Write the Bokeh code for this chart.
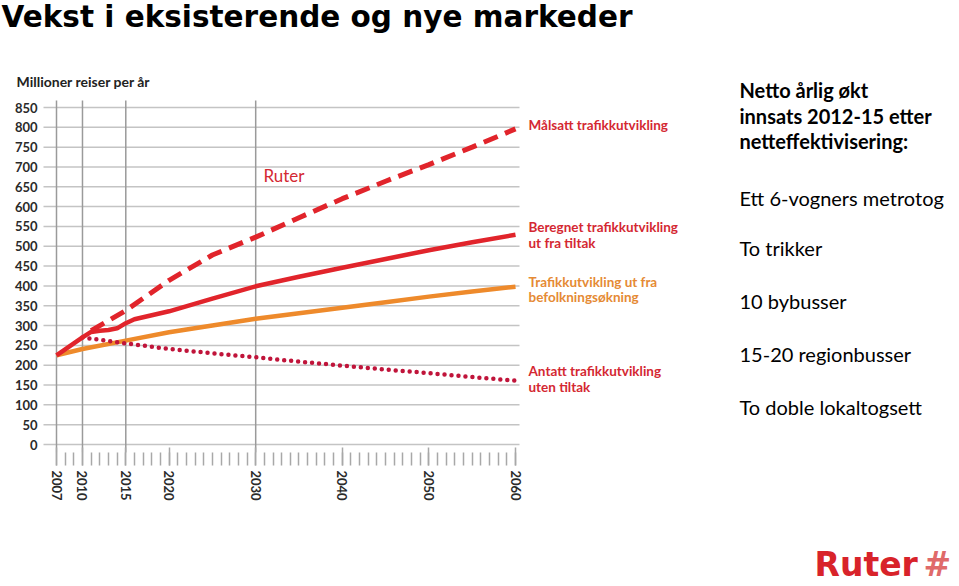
from bokeh.plotting import figure
from bokeh.models import Range1d, FixedTicker, Label, LinearAxis, Grid
from bokeh.embed import file_html
from bokeh.resources import INLINE

# ---------------- data ----------------
years_target = [2011, 2015, 2020, 2025, 2030, 2035, 2040, 2045, 2050, 2055, 2060]
target = [287, 338, 414, 478, 523, 572, 620, 664, 706, 750, 796]

years_calc = [2007, 2010, 2011, 2012, 2013, 2014, 2015, 2016, 2020, 2025, 2030,
              2035, 2040, 2045, 2050, 2055, 2060]
calc = [225, 270, 284, 287, 289, 293, 306, 316, 336, 368, 399,
        423, 446, 468, 490, 510, 529]

years_pop = [2007, 2010, 2015, 2020, 2025, 2030, 2035, 2040, 2045, 2050, 2055, 2060]
pop = [225, 241, 262, 283, 300, 317, 331, 345, 359, 373, 386, 398]

years_base = [2010, 2015, 2020, 2025, 2030, 2035, 2040, 2045, 2050, 2055, 2060]
base = [270, 255, 241, 230, 220, 209, 199, 189, 180, 170, 161]

y_ticks = list(range(0, 851, 50))
x_label_years = [2007, 2010, 2015, 2020, 2030, 2040, 2050, 2060]
x_minor_years = list(range(2007, 2061))
v_grid_years = [2007, 2010, 2015, 2030]

series_labels = [
    ("Målsatt trafikkutvikling", 130),
    ("Beregnet trafikkutvikling", 232),
    ("ut fra tiltak", 248),
    ("Trafikkutvikling ut fra", 287),
    ("befolkningsøkning", 302),
    ("Antatt trafikkutvikling", 376),
    ("uten tiltak", 392),
]
side_bold = ["Netto årlig økt", "innsats 2012-15 etter", "netteffektivisering:"]
side_items = ["Ett 6-vogners metrotog", "To trikker", "10 bybusser",
              "15-20 regionbusser", "To doble lokaltogsett"]

# ---------------- geometry (canvas px -> data) ----------------
W, H = 959, 586
PXY = (515 - 56) / 53.0
PXU = (444 - 107) / 850.0


def xd(px):
    return 2007 + (px - 56) / PXY


def yd(py):
    return (444 - py) / PXU


PLOT_L, PLOT_R, PLOT_T, PLOT_B = 43, 519, 100, 452

RED = "#e1242b"
LRED = "#d42832"
ORANGE = "#ee8a2b"
LORANGE = "#e58a34"
CRIMSON = "#c0143a"
FONT = "Lato"

p = figure(width=W, height=H,
           x_range=Range1d(xd(0), xd(W)), y_range=Range1d(yd(H), yd(0)),
           output_backend="svg", toolbar_location=None,
           x_axis_location=None, y_axis_location=None,
           min_border=0)
p.center = [c for c in p.center if not isinstance(c, Grid)]
p.outline_line_color = None
p.background_fill_color = "white"
p.border_fill_color = "white"

# grid lines (from the tick lists)
p.segment(x0=xd(PLOT_L), x1=xd(PLOT_R), y0=y_ticks, y1=y_ticks,
          line_color="#c4c4c4", line_width=1.5)
p.segment(x0=v_grid_years, x1=v_grid_years, y0=yd(PLOT_B), y1=yd(PLOT_T),
          line_color="#9a9a9a", line_width=1.5)

# y axis
yaxis = LinearAxis(fixed_location=xd(PLOT_L), ticker=FixedTicker(ticks=y_ticks))
yaxis.axis_line_color = None
yaxis.major_tick_line_color = None
yaxis.minor_tick_line_color = None
yaxis.major_tick_in = 0
yaxis.major_tick_out = 0
yaxis.minor_tick_in = 0
yaxis.minor_tick_out = 0
yaxis.major_label_standoff = 6
yaxis.major_label_text_font = FONT
yaxis.major_label_text_font_style = "bold"
yaxis.major_label_text_font_size = "13px"
yaxis.major_label_text_color = "#2a2a2a"
p.add_layout(yaxis, "left")

# x axis
xaxis = LinearAxis(fixed_location=yd(PLOT_B),
                   ticker=FixedTicker(ticks=x_label_years, minor_ticks=x_minor_years))
xaxis.axis_line_color = None
xaxis.major_tick_in = 5
xaxis.major_tick_out = 13
xaxis.minor_tick_in = 0
xaxis.minor_tick_out = 13
xaxis.major_tick_line_color = "#a8a8a8"
xaxis.minor_tick_line_color = "#a8a8a8"
xaxis.major_tick_line_width = 1.5
xaxis.minor_tick_line_width = 1.5
xaxis.major_label_orientation = "vertical"
xaxis.major_label_standoff = 5
xaxis.major_label_text_font = FONT
xaxis.major_label_text_font_style = "bold"
xaxis.major_label_text_font_size = "13px"
xaxis.major_label_text_color = "#2a2a2a"
p.add_layout(xaxis, "below")

# lines
p.line(years_pop, pop, line_color=ORANGE, line_width=4.5)
p.line(years_base, base, line_color=CRIMSON, line_width=4.5,
       line_dash="0 7", line_cap="round")
p.line(years_calc, calc, line_color=RED, line_width=4.5)
p.line(years_target, target, line_color=RED, line_width=5, line_dash="15 8")

BASE_K = 0.4  # rendered baseline sits ~0.4 em below the anchor


def add_label(text, px, py, size, color, bold=False, font=FONT):
    p.add_layout(Label(x=xd(px), y=yd(py - BASE_K * size), text=text,
                       text_font=font, text_font_size=f"{size}px",
                       text_color=color,
                       text_font_style="bold" if bold else "normal",
                       text_baseline="alphabetic", text_align="left"))


add_label("Vekst i eksisterende og nye markeder", 1, 28.5, 29.5, "#000000",
          bold=True, font="DejaVu Sans")
add_label("Millioner reiser per år", 16, 87, 14, "#222222", bold=True)
add_label("Ruter", 263, 182, 17, LRED)

for t, py in series_labels:
    col = LORANGE if t in ("Trafikkutvikling ut fra", "befolkningsøkning") else LRED
    add_label(t, 528, py, 13.5, col, bold=True)

for t, py in zip(side_bold, [97, 123, 148]):
    add_label(t, 739, py, 20, "#000000", bold=True)
for t, py in zip(side_items, [205, 255, 308, 361.5, 414]):
    add_label(t, 739, py, 20, "#000000")

add_label("Ruter", 814, 577, 33, "#d8232a", bold=True, font="DejaVu Sans")
add_label("#", 923, 577, 33, "#e06a6a", bold=True, font="DejaVu Sans")

open("out.html", "w").write(file_html(p, INLINE))
